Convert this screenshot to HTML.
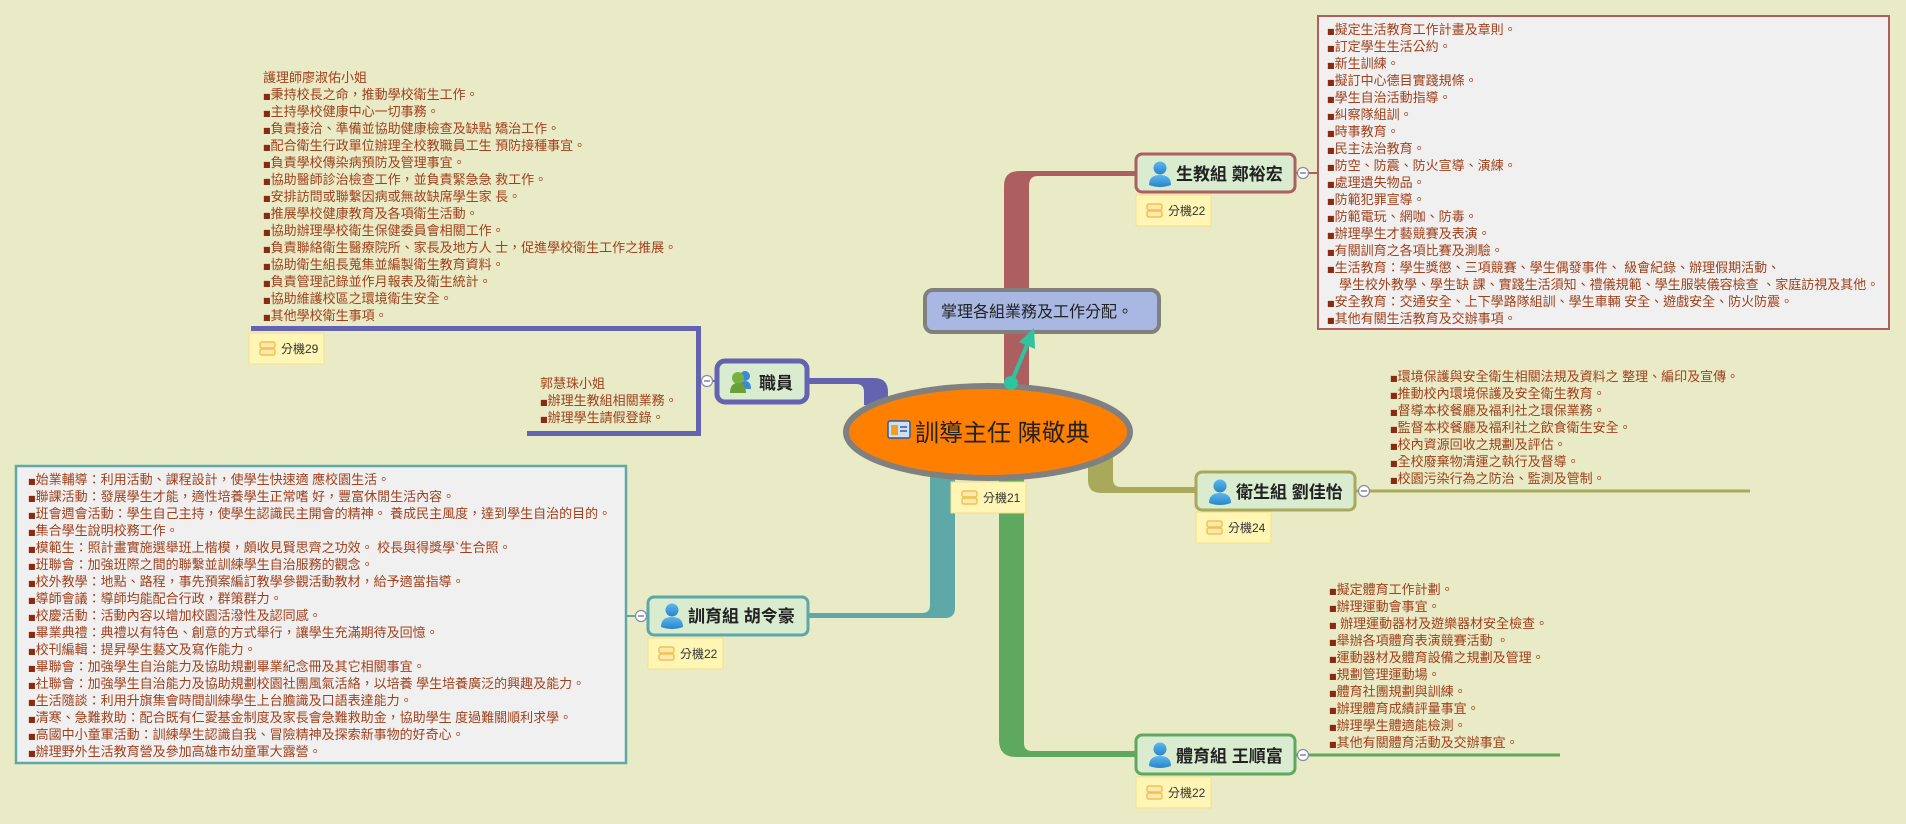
<!DOCTYPE html>
<html><head><meta charset="utf-8"><style>
html,body{margin:0;padding:0;background:#e9eac6;}
svg{display:block;}
.t{font-family:"Liberation Sans","Noto Sans CJK TC",sans-serif;font-size:13px;fill:#a0401c;}
.b{font-family:"DejaVu Sans",sans-serif;font-size:8px;fill:#8b2a10;}
.n{font-family:"Liberation Sans","Noto Sans CJK TC",sans-serif;font-size:17px;font-weight:bold;fill:#222;}
.x{font-family:"Liberation Sans","Noto Sans CJK TC",sans-serif;font-size:12px;fill:#333;}
</style></head><body>
<svg width="1906" height="824" viewBox="0 0 1906 824" xmlns="http://www.w3.org/2000/svg">
<defs>
<linearGradient id="pg" x1="0" y1="0" x2="0" y2="1"><stop offset="0" stop-color="#5ab8ee"/><stop offset="1" stop-color="#2a84c8"/></linearGradient>
<g id="person"><circle cx="12" cy="7" r="6.5" fill="url(#pg)"/><path d="M1,24 Q1,14 12,14 Q23,14 23,24 Q12,28 1,24Z" fill="url(#pg)"/></g>
<g id="note"><rect x="0" y="0" width="75" height="31" fill="#fff5b5" stroke="#f5e08a" stroke-width="1"/><rect x="11" y="9" width="15" height="6" rx="2" fill="#fde9b0" stroke="#f2c24e" stroke-width="1.5"/><rect x="11" y="16" width="15" height="6" rx="2" fill="#fde9b0" stroke="#f2c24e" stroke-width="1.5"/></g>
<g id="col"><circle cx="0" cy="0" r="5.5" fill="#fff" stroke="#8888aa" stroke-width="1.2"/><line x1="-3" y1="0" x2="3" y2="0" stroke="#666" stroke-width="1.2"/></g>
</defs>

<path d="M1004,390 L1004,186 Q1004,171 1019,171 L1135,171 L1135,176 L1038,176 Q1029,176 1029,186 L1029,390 Z" fill="#ad5f5f"/>
<path d="M809,378 L874,378 Q888,378 888,392 L888,405 L864,405 L864,392 Q864,384 856,384 L809,384 Z" fill="#6363b0"/>
<path d="M1088,455 L1088,480 Q1088,493 1101,493 L1195,493 L1195,487 L1121,487 Q1113,487 1113,479 L1113,455 Z" fill="#a9a95c"/>
<path d="M930,475 L930,605 Q930,613 922,613 L809,613 L809,618 L945,618 Q955,618 955,608 L955,475 Z" fill="#5fa8a8"/>
<path d="M999,475 L999,740 Q999,757 1016,757 L1135,757 L1135,751 L1032,751 Q1024,751 1024,743 L1024,475 Z" fill="#5fa85f"/>

<path d="M251,326 L701,326 L701,436 L527,436 L527,431 L696,431 L696,331 L251,331 Z" fill="#6363b0"/>
<line x1="701" y1="381" x2="715" y2="381" stroke="#6363b0" stroke-width="2"/>
<use href="#col" x="707" y="381"/>

<line x1="1296" y1="173" x2="1317" y2="173" stroke="#ad5f5f" stroke-width="2"/>
<use href="#col" x="1303" y="173"/>
<line x1="1356" y1="491" x2="1750" y2="491" stroke="#a9a95c" stroke-width="3"/>
<use href="#col" x="1364" y="491"/>
<line x1="1296" y1="755" x2="1560" y2="755" stroke="#5fa85f" stroke-width="3"/>
<use href="#col" x="1303" y="755"/>
<line x1="626" y1="616" x2="647" y2="616" stroke="#5fa8a8" stroke-width="2"/>
<use href="#col" x="641" y="616"/>

<ellipse cx="988" cy="432" rx="142" ry="46" fill="#ff8000" stroke="#808080" stroke-width="6"/>
<g transform="translate(888,421)"><rect x="0" y="0" width="22" height="17" rx="2" fill="#cfe0f4" stroke="#2a5aa0" stroke-width="1.5"/><rect x="3" y="4" width="7" height="10" fill="#f0a020"/><line x1="12" y1="6" x2="19" y2="6" stroke="#2a5aa0" stroke-width="1.5"/><line x1="12" y1="10" x2="19" y2="10" stroke="#2a5aa0" stroke-width="1.5"/></g>
<text x="915" y="441" font-family="Liberation Sans,Noto Sans CJK TC,sans-serif" font-size="24" fill="#222">訓導主任 陳敬典</text>

<rect x="925" y="290" width="234" height="42" rx="8" fill="#a8b8e2" stroke="#808080" stroke-width="4"/>
<text x="941" y="317" font-family="Liberation Sans,Noto Sans CJK TC,sans-serif" font-size="16" fill="#222">掌理各組業務及工作分配。</text>
<line x1="1011" y1="383" x2="1027" y2="345" stroke="#2ec4a0" stroke-width="4"/>
<polygon points="1034,328 1035,349 1019,342" fill="#2ec4a0"/>
<circle cx="1011" cy="383" r="7" fill="#2ec4a0"/>

<rect x="1136" y="154" width="159" height="38" rx="6" fill="#d9ecd0" stroke="#ad5f5f" stroke-width="3"/>
<use href="#person" x="1148" y="161"/>
<text class="n" x="1176" y="180">生教組 鄭裕宏</text>
<use href="#note" x="1136" y="195"/><text class="x" x="1168" y="215">分機22</text>

<rect x="717" y="361" width="90" height="41" rx="8" fill="#d9ecd0" stroke="#6363b0" stroke-width="5"/>
<g transform="translate(731,371)"><circle cx="14" cy="5" r="5" fill="#3a8ad8"/><path d="M8,18 Q8,10 14,10 Q20,10 20,18Z" fill="#3a8ad8"/><circle cx="7" cy="7" r="6" fill="#7ab040"/><path d="M-1,22 Q-1,12 7,12 Q15,12 15,22Z" fill="#6aa038"/></g>
<text class="n" x="759" y="389">職員</text>
<use href="#note" x="249" y="333"/><text class="x" x="281" y="353">分機29</text>

<rect x="1196" y="472" width="159" height="38" rx="6" fill="#d9ecd0" stroke="#a9a95c" stroke-width="3"/>
<use href="#person" x="1208" y="479"/>
<text class="n" x="1236" y="498">衛生組 劉佳怡</text>
<use href="#note" x="1196" y="512"/><text class="x" x="1228" y="532">分機24</text>

<rect x="648" y="597" width="160" height="38" rx="6" fill="#d9ecd0" stroke="#5fa8a8" stroke-width="3"/>
<use href="#person" x="660" y="603"/>
<text class="n" x="688" y="622">訓育組 胡令豪</text>
<use href="#note" x="648" y="638"/><text class="x" x="680" y="658">分機22</text>

<use href="#note" x="951" y="482"/><text class="x" x="983" y="502">分機21</text>

<rect x="1136" y="735" width="159" height="39" rx="6" fill="#d9ecd0" stroke="#5fa85f" stroke-width="3"/>
<use href="#person" x="1148" y="742"/>
<text class="n" x="1176" y="762">體育組 王順富</text>
<use href="#note" x="1136" y="777"/><text class="x" x="1168" y="797">分機22</text>

<rect x="1318" y="16" width="571" height="313" fill="#f0f0f0" stroke="#ad5f5f" stroke-width="2"/>
<rect x="16" y="466" width="610" height="297" fill="#f0f0f0" stroke="#5fa8a8" stroke-width="2.5"/>

<g class="t">
<text x="263" y="82">護理師廖淑佑小姐</text>
<text x="263" y="99"><tspan class="b">■</tspan>秉持校長之命，推動學校衛生工作。</text>
<text x="263" y="116"><tspan class="b">■</tspan>主持學校健康中心一切事務。</text>
<text x="263" y="133"><tspan class="b">■</tspan>負責接洽、準備並協助健康檢查及缺點 矯治工作。</text>
<text x="263" y="150"><tspan class="b">■</tspan>配合衛生行政單位辦理全校教職員工生 預防接種事宜。</text>
<text x="263" y="167"><tspan class="b">■</tspan>負責學校傳染病預防及管理事宜。</text>
<text x="263" y="184"><tspan class="b">■</tspan>協助醫師診治檢查工作，並負責緊急急 救工作。</text>
<text x="263" y="201"><tspan class="b">■</tspan>安排訪問或聯繫因病或無故缺席學生家 長。</text>
<text x="263" y="218"><tspan class="b">■</tspan>推展學校健康教育及各項衛生活動。</text>
<text x="263" y="235"><tspan class="b">■</tspan>協助辦理學校衛生保健委員會相關工作。</text>
<text x="263" y="252"><tspan class="b">■</tspan>負責聯絡衛生醫療院所、家長及地方人 士，促進學校衛生工作之推展。</text>
<text x="263" y="269"><tspan class="b">■</tspan>協助衛生組長蒐集並編製衛生教育資料。</text>
<text x="263" y="286"><tspan class="b">■</tspan>負責管理記錄並作月報表及衛生統計。</text>
<text x="263" y="303"><tspan class="b">■</tspan>協助維護校區之環境衛生安全。</text>
<text x="263" y="320"><tspan class="b">■</tspan>其他學校衛生事項。</text>

<text x="540" y="388">郭慧珠小姐</text>
<text x="540" y="405"><tspan class="b">■</tspan>辦理生教組相關業務。</text>
<text x="540" y="422"><tspan class="b">■</tspan>辦理學生請假登錄。</text>

<text x="1327" y="34"><tspan class="b">■</tspan>擬定生活教育工作計畫及章則。</text>
<text x="1327" y="51"><tspan class="b">■</tspan>訂定學生生活公約。</text>
<text x="1327" y="68"><tspan class="b">■</tspan>新生訓練。</text>
<text x="1327" y="85"><tspan class="b">■</tspan>擬訂中心德目實踐規條。</text>
<text x="1327" y="102"><tspan class="b">■</tspan>學生自治活動指導。</text>
<text x="1327" y="119"><tspan class="b">■</tspan>糾察隊組訓。</text>
<text x="1327" y="136"><tspan class="b">■</tspan>時事教育。</text>
<text x="1327" y="153"><tspan class="b">■</tspan>民主法治教育。</text>
<text x="1327" y="170"><tspan class="b">■</tspan>防空、防震、防火宣導、演練。</text>
<text x="1327" y="187"><tspan class="b">■</tspan>處理遺失物品。</text>
<text x="1327" y="204"><tspan class="b">■</tspan>防範犯罪宣導。</text>
<text x="1327" y="221"><tspan class="b">■</tspan>防範電玩、網咖、防毒。</text>
<text x="1327" y="238"><tspan class="b">■</tspan>辦理學生才藝競賽及表演。</text>
<text x="1327" y="255"><tspan class="b">■</tspan>有關訓育之各項比賽及測驗。</text>
<text x="1327" y="272"><tspan class="b">■</tspan>生活教育：學生獎懲、三項競賽、學生偶發事件、 級會紀錄、辦理假期活動、</text>
<text x="1339" y="289">學生校外教學、學生缺 課、實踐生活須知、禮儀規範、學生服裝儀容檢查 、家庭訪視及其他。</text>
<text x="1327" y="306"><tspan class="b">■</tspan>安全教育：交通安全、上下學路隊組訓、學生車輛 安全、遊戲安全、防火防震。</text>
<text x="1327" y="323"><tspan class="b">■</tspan>其他有關生活教育及交辦事項。</text>

<text x="1390" y="381"><tspan class="b">■</tspan>環境保護與安全衛生相關法規及資料之 整理、編印及宣傳。</text>
<text x="1390" y="398"><tspan class="b">■</tspan>推動校內環境保護及安全衛生教育。</text>
<text x="1390" y="415"><tspan class="b">■</tspan>督導本校餐廳及福利社之環保業務。</text>
<text x="1390" y="432"><tspan class="b">■</tspan>監督本校餐廳及福利社之飲食衛生安全。</text>
<text x="1390" y="449"><tspan class="b">■</tspan>校內資源回收之規劃及評估。</text>
<text x="1390" y="466"><tspan class="b">■</tspan>全校廢棄物清運之執行及督導。</text>
<text x="1390" y="483"><tspan class="b">■</tspan>校園污染行為之防治、監測及管制。</text>

<text x="1329" y="594"><tspan class="b">■</tspan>擬定體育工作計劃。</text>
<text x="1329" y="611"><tspan class="b">■</tspan>辦理運動會事宜。</text>
<text x="1329" y="628"><tspan class="b">■</tspan> 辦理運動器材及遊樂器材安全檢查。</text>
<text x="1329" y="645"><tspan class="b">■</tspan>舉辦各項體育表演競賽活動 。</text>
<text x="1329" y="662"><tspan class="b">■</tspan>運動器材及體育設備之規劃及管理。</text>
<text x="1329" y="679"><tspan class="b">■</tspan>規劃管理運動場。</text>
<text x="1329" y="696"><tspan class="b">■</tspan>體育社團規劃與訓練。</text>
<text x="1329" y="713"><tspan class="b">■</tspan>辦理體育成績評量事宜。</text>
<text x="1329" y="730"><tspan class="b">■</tspan>辦理學生體適能檢測。</text>
<text x="1329" y="747"><tspan class="b">■</tspan>其他有關體育活動及交辦事宜。</text>

<text x="28" y="484"><tspan class="b">■</tspan>始業輔導：利用活動、課程設計，使學生快速適 應校園生活。</text>
<text x="28" y="501"><tspan class="b">■</tspan>聯課活動：發展學生才能，適性培養學生正常嗜 好，豐富休閒生活內容。</text>
<text x="28" y="518"><tspan class="b">■</tspan>班會週會活動：學生自己主持，使學生認識民主開會的精神。 養成民主風度，達到學生自治的目的。</text>
<text x="28" y="535"><tspan class="b">■</tspan>集合學生說明校務工作。</text>
<text x="28" y="552"><tspan class="b">■</tspan>模範生：照計畫實施選舉班上楷模，頗收見賢思齊之功效。 校長與得獎學`生合照。</text>
<text x="28" y="569"><tspan class="b">■</tspan>班聯會：加強班際之間的聯繫並訓練學生自治服務的觀念。</text>
<text x="28" y="586"><tspan class="b">■</tspan>校外教學：地點、路程，事先預案編訂教學參觀活動教材，給予適當指導。</text>
<text x="28" y="603"><tspan class="b">■</tspan>導師會議：導師均能配合行政，群策群力。</text>
<text x="28" y="620"><tspan class="b">■</tspan>校慶活動：活動內容以增加校園活潑性及認同感。</text>
<text x="28" y="637"><tspan class="b">■</tspan>畢業典禮：典禮以有特色、創意的方式舉行，讓學生充滿期待及回憶。</text>
<text x="28" y="654"><tspan class="b">■</tspan>校刊編輯：提昇學生藝文及寫作能力。</text>
<text x="28" y="671"><tspan class="b">■</tspan>畢聯會：加強學生自治能力及協助規劃畢業紀念冊及其它相關事宜。</text>
<text x="28" y="688"><tspan class="b">■</tspan>社聯會：加強學生自治能力及協助規劃校園社團風氣活絡，以培養 學生培養廣泛的興趣及能力。</text>
<text x="28" y="705"><tspan class="b">■</tspan>生活隨談：利用升旗集會時間訓練學生上台膽識及口語表達能力。</text>
<text x="28" y="722"><tspan class="b">■</tspan>清寒、急難救助：配合既有仁愛基金制度及家長會急難救助金，協助學生 度過難關順利求學。</text>
<text x="28" y="739"><tspan class="b">■</tspan>高國中小童軍活動：訓練學生認識自我、冒險精神及探索新事物的好奇心。</text>
<text x="28" y="756"><tspan class="b">■</tspan>辦理野外生活教育營及參加高雄市幼童軍大露營。</text>
</g>
</svg>
</body></html>
